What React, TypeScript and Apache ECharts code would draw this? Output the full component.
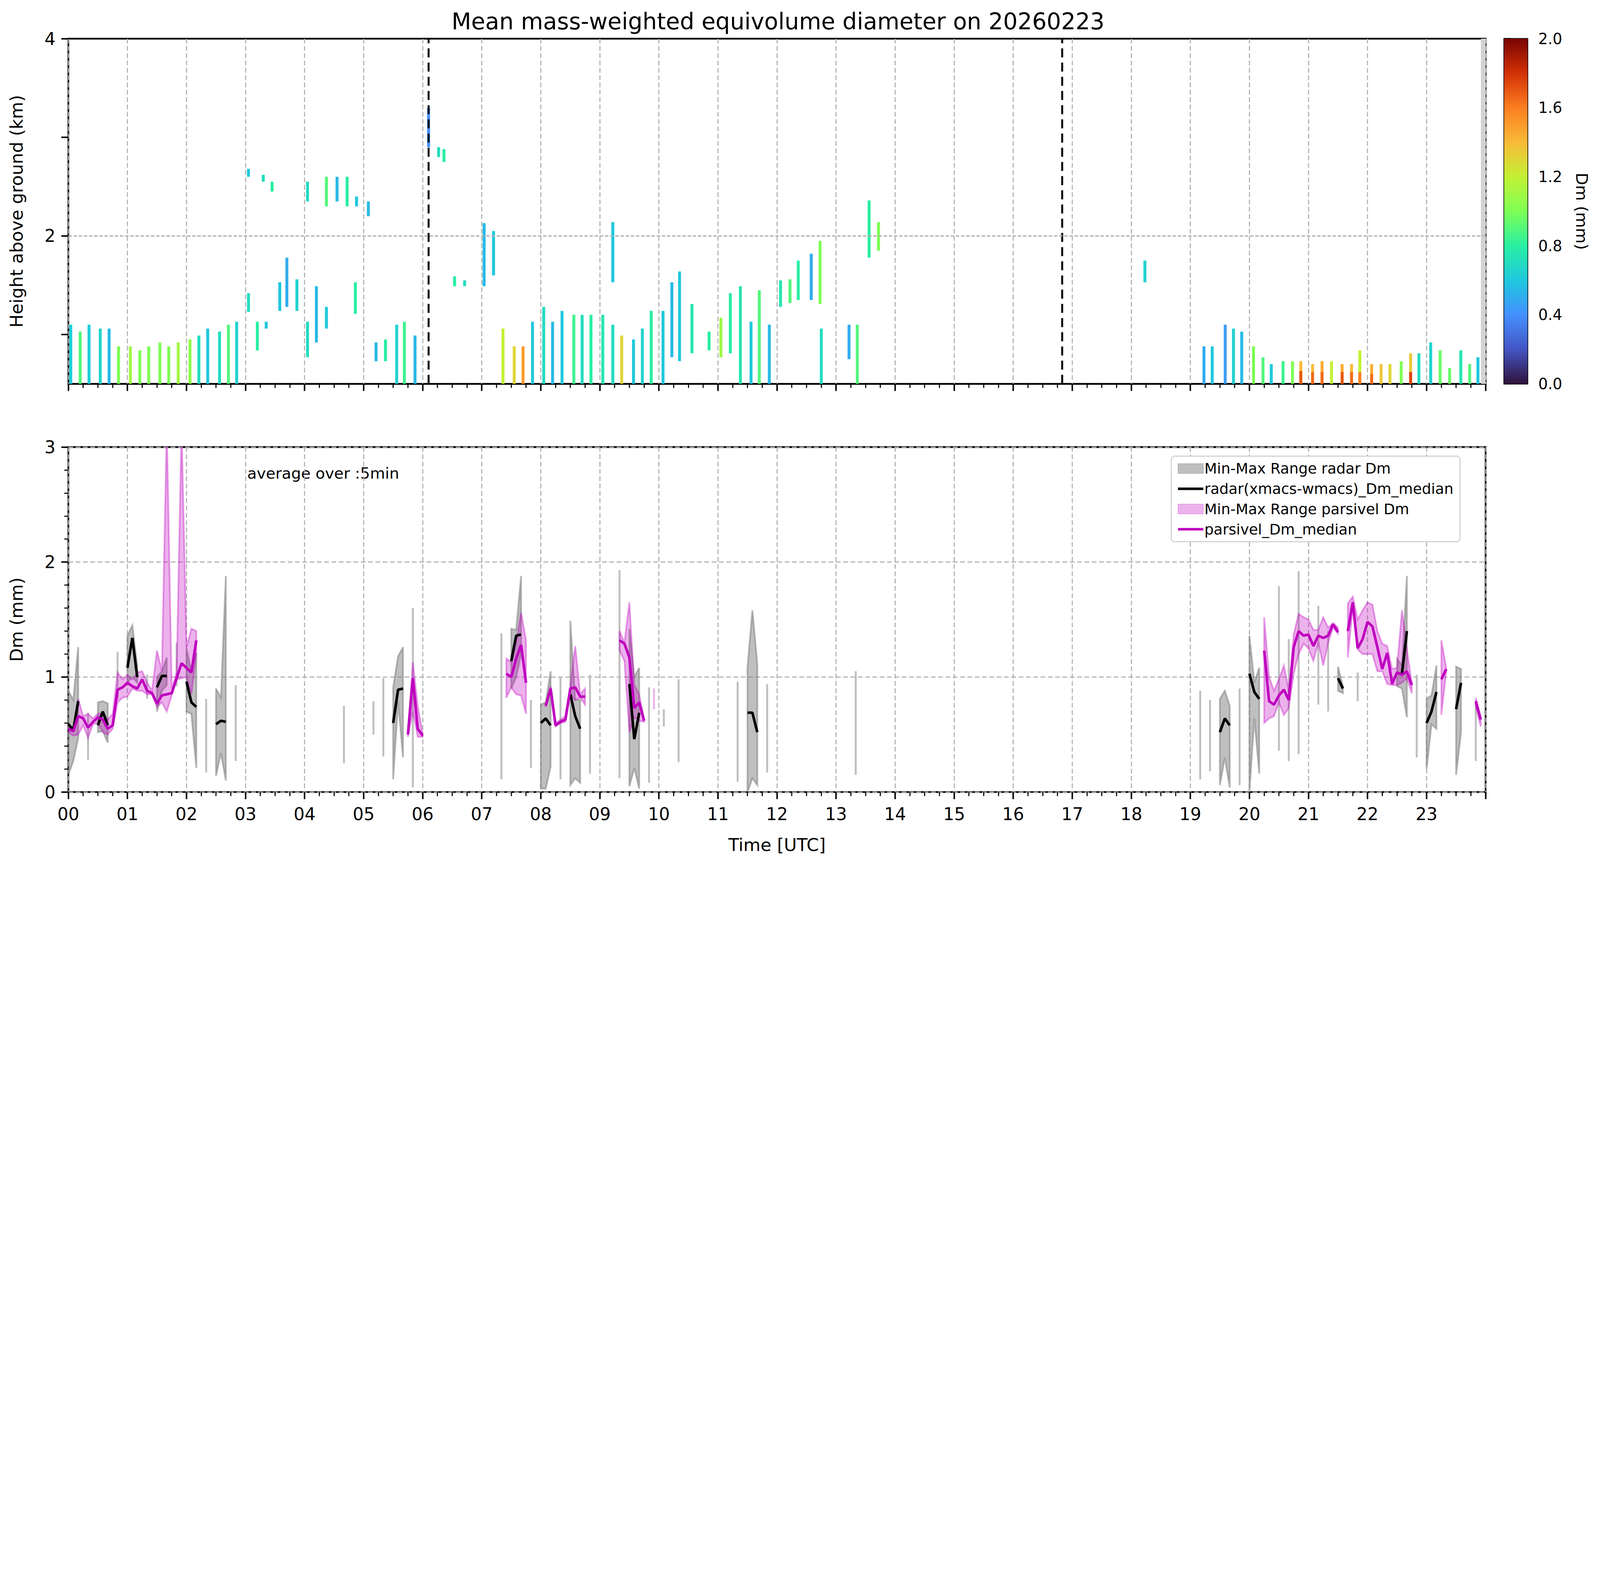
import { useEffect, useRef } from 'react';
import * as echarts from 'echarts';

// turbo colormap samples (0 .. 1)
const turboStops = ['#30123b', '#4454c4', '#4490fe', '#1fc8de', '#29efa2', '#7eff55', '#c3f134', '#f9ba38', '#fb7e21', '#d23105', '#7a0403'];

// top panel: [hour, bottom km, top km, Dm mm]
const profileCols: [number, number, number, number][] = [
  [0.04, 0.5, 1.10, 0.62], [0.20, 0.5, 1.03, 0.9], [0.35, 0.5, 1.10, 0.62], [0.54, 0.5, 1.06, 0.66], [0.69, 0.5, 1.06, 0.55],
  [0.85, 0.5, 0.88, 1.0], [1.05, 0.5, 0.88, 1.1], [1.21, 0.5, 0.84, 1.0], [1.36, 0.5, 0.88, 1.0], [1.55, 0.5, 0.92, 1.0],
  [1.70, 0.5, 0.88, 1.0], [1.86, 0.5, 0.92, 1.1], [2.06, 0.5, 0.95, 1.05], [2.21, 0.5, 0.99, 0.7], [2.36, 0.5, 1.06, 0.6],
  [2.56, 0.5, 1.03, 0.7], [2.71, 0.5, 1.10, 0.9], [2.85, 0.5, 1.13, 0.65],
  [3.05, 1.23, 1.42, 0.7], [3.05, 2.60, 2.68, 0.6], [3.20, 0.84, 1.13, 0.8], [3.35, 1.06, 1.13, 0.6], [3.58, 1.24, 1.53, 0.6],
  [3.70, 1.28, 1.78, 0.5], [3.87, 1.24, 1.56, 0.65], [4.05, 0.77, 1.13, 0.7], [4.20, 0.92, 1.49, 0.55], [4.37, 1.06, 1.28, 0.6],
  [4.86, 1.21, 1.53, 0.8], [4.05, 2.35, 2.55, 0.7], [4.37, 2.30, 2.60, 0.9], [4.55, 2.35, 2.60, 0.55], [4.72, 2.30, 2.60, 0.8],
  [4.88, 2.30, 2.40, 0.6], [5.08, 2.20, 2.35, 0.55], [3.30, 2.55, 2.62, 0.7], [3.45, 2.45, 2.55, 0.8],
  [5.21, 0.73, 0.92, 0.55], [5.37, 0.73, 0.95, 0.8], [5.56, 0.5, 1.10, 0.65], [5.69, 0.5, 1.13, 0.85], [5.87, 0.5, 0.99, 0.55],
  [6.10, 2.90, 3.30, 0.4], [6.27, 2.80, 2.90, 0.7], [6.36, 2.75, 2.88, 0.8], [6.54, 1.49, 1.59, 0.8], [6.71, 1.49, 1.55, 0.7],
  [7.04, 1.49, 2.13, 0.55], [7.20, 1.60, 2.05, 0.6],
  [7.36, 0.5, 1.06, 1.2], [7.55, 0.5, 0.88, 1.3], [7.70, 0.5, 0.88, 1.5], [7.86, 0.5, 1.13, 0.6], [8.05, 0.5, 1.28, 0.7],
  [8.20, 0.5, 1.13, 0.55], [8.36, 0.5, 1.24, 0.6], [8.56, 0.5, 1.20, 0.85], [8.70, 0.5, 1.20, 0.7], [8.85, 0.5, 1.20, 0.8],
  [9.05, 0.5, 1.20, 0.75], [9.22, 0.5, 1.10, 0.7], [9.22, 1.53, 2.14, 0.6], [9.37, 0.5, 0.99, 1.3], [9.57, 0.5, 0.95, 0.6],
  [9.72, 0.5, 1.06, 0.65], [9.87, 0.5, 1.24, 0.8], [10.07, 0.5, 1.24, 0.6], [10.22, 0.77, 1.53, 0.55], [10.35, 0.73, 1.64, 0.6],
  [10.56, 0.81, 1.31, 0.75], [10.85, 0.84, 1.03, 0.8], [11.05, 0.77, 1.17, 1.1], [11.21, 0.81, 1.42, 0.8], [11.38, 0.5, 1.49, 0.75],
  [11.56, 0.5, 1.13, 0.6], [11.70, 0.5, 1.45, 0.9], [11.87, 0.5, 1.10, 0.55],
  [12.06, 1.28, 1.55, 0.75], [12.22, 1.32, 1.56, 0.9], [12.36, 1.35, 1.75, 0.8], [12.58, 1.35, 1.82, 0.5], [12.73, 1.31, 1.95, 1.0],
  [12.75, 0.5, 1.06, 0.7], [13.22, 0.75, 1.10, 0.5], [13.36, 0.5, 1.10, 0.9], [13.56, 1.78, 2.36, 0.8], [13.72, 1.85, 2.14, 1.0],
  [18.23, 1.53, 1.75, 0.65],
  [19.23, 0.5, 0.88, 0.5], [19.37, 0.5, 0.88, 0.6], [19.59, 0.5, 1.10, 0.45], [19.73, 0.5, 1.06, 0.65], [19.87, 0.5, 1.03, 0.55],
  [20.07, 0.5, 0.88, 1.0], [20.23, 0.5, 0.77, 0.9], [20.37, 0.5, 0.70, 0.6], [20.57, 0.5, 0.73, 0.85], [20.73, 0.5, 0.73, 1.0],
  [20.87, 0.5, 0.73, 1.4], [20.87, 0.5, 0.63, 1.7], [21.07, 0.5, 0.70, 1.4], [21.07, 0.5, 0.62, 1.65], [21.23, 0.5, 0.73, 1.45],
  [21.23, 0.5, 0.62, 1.65], [21.39, 0.5, 0.73, 1.2], [21.57, 0.5, 0.70, 1.45], [21.57, 0.5, 0.62, 1.7], [21.73, 0.5, 0.70, 1.4],
  [21.73, 0.5, 0.62, 1.65], [21.87, 0.5, 0.84, 1.2], [21.87, 0.5, 0.62, 1.6], [22.07, 0.5, 0.70, 1.45], [22.07, 0.5, 0.6, 1.65],
  [22.23, 0.5, 0.70, 1.35], [22.38, 0.5, 0.70, 1.3], [22.57, 0.5, 0.73, 1.0], [22.73, 0.5, 0.81, 1.35], [22.73, 0.5, 0.62, 1.75],
  [22.87, 0.5, 0.81, 0.7], [23.07, 0.5, 0.92, 0.65], [23.23, 0.5, 0.84, 0.95], [23.39, 0.5, 0.66, 0.95], [23.58, 0.5, 0.84, 0.75],
  [23.73, 0.5, 0.70, 0.9], [23.87, 0.5, 0.77, 0.6],
];

// bottom panel, 5-min steps: [minute of day, median, min, max] (median null where only the range exists)
const parsivelRows: [number, number | null, number, number][] = [
  [0, 0.55, 0.52, 0.58], [5, 0.53, 0.49, 0.55], [10, 0.66, 0.50, 0.81], [15, 0.64, 0.58, 0.66], [20, 0.56, 0.47, 0.68],
  [25, 0.61, 0.59, 0.64], [30, 0.65, 0.60, 0.68], [35, 0.63, 0.52, 0.69], [40, 0.55, 0.50, 0.63], [45, 0.58, 0.55, 0.68],
  [50, 0.89, 0.78, 1.04], [55, 0.91, 0.82, 0.98], [60, 0.95, 0.83, 1.02], [65, 0.92, 0.90, 0.98], [70, 0.90, 0.88, 1.04],
  [75, 0.98, 0.88, 1.05], [80, 0.88, 0.85, 0.95], [85, 0.86, 0.85, 0.88], [90, 0.77, 0.74, 1.23], [95, 0.84, 0.78, 1.05],
  [100, 0.85, 0.70, 3.2], [105, 0.86, 0.84, 0.90], [110, 0.99, 0.98, 1.04], [115, 1.12, 0.99, 3.2], [120, 1.08, 1.00, 1.26],
  [125, 1.04, 0.85, 1.42], [130, 1.32, 1.20, 1.40],
  [345, 0.50, 0.48, 0.52], [350, 0.99, 0.70, 1.13], [355, 0.55, 0.48, 0.75], [360, 0.49, 0.48, 0.50],
  [445, 1.03, 0.82, 1.16], [450, 1.00, 0.91, 1.13], [455, 1.16, 0.85, 1.30], [460, 1.28, 0.84, 1.56], [465, 0.95, 0.68, 1.32],
  [485, 0.75, 0.74, 0.77], [490, 0.90, 0.88, 0.92], [495, 0.58, 0.57, 0.60], [500, 0.61, 0.60, 0.63], [505, 0.63, 0.61, 0.66],
  [510, 0.90, 0.85, 0.92], [515, 0.91, 0.80, 1.27], [520, 0.83, 0.82, 0.85], [525, 0.83, 0.76, 0.90],
  [560, 1.32, 1.23, 1.40], [565, 1.29, 1.14, 1.30], [570, 1.17, 0.52, 1.65], [575, 0.73, 0.65, 0.93], [580, 0.78, 0.62, 0.85],
  [585, 0.62, 0.61, 0.63], [595, null, 0.72, 0.90],
  [1215, 1.23, 0.60, 1.52], [1220, 0.79, 0.64, 1.00], [1225, 0.76, 0.66, 0.88], [1230, 0.84, 0.78, 0.98], [1235, 0.89, 0.67, 1.10],
  [1240, 0.80, 0.73, 0.88], [1245, 1.26, 1.03, 1.37], [1250, 1.40, 1.20, 1.55], [1255, 1.36, 1.29, 1.52], [1260, 1.37, 1.25, 1.50],
  [1265, 1.27, 1.14, 1.41], [1270, 1.36, 1.30, 1.41], [1275, 1.34, 1.10, 1.52], [1280, 1.36, 1.30, 1.43], [1285, 1.46, 1.43, 1.47],
  [1290, 1.39, 1.38, 1.43],
  [1300, 1.40, 1.17, 1.64], [1305, 1.65, 1.60, 1.70], [1310, 1.25, 1.24, 1.50], [1315, 1.33, 1.20, 1.58], [1320, 1.48, 1.20, 1.65],
  [1325, 1.44, 1.20, 1.63], [1330, 1.26, 1.05, 1.40], [1335, 1.07, 1.05, 1.29], [1340, 1.21, 0.94, 1.27], [1345, 0.94, 0.93, 1.07],
  [1350, 1.04, 0.93, 1.08], [1355, 1.02, 0.95, 1.58], [1360, 1.05, 0.99, 1.24], [1365, 0.93, 0.86, 0.95],
  [1395, 0.98, 0.67, 1.32], [1400, 1.07, 1.05, 1.08],
  [1430, 0.79, 0.74, 0.82], [1435, 0.63, 0.57, 0.65],
];

const radarRows: [number, number | null, number, number][] = [
  [0, 0.59, 0.15, 0.88], [5, 0.54, 0.27, 0.80], [10, 0.79, 0.47, 1.26], [20, null, 0.28, 0.69],
  [30, 0.58, 0.52, 0.78], [35, 0.70, 0.53, 0.79], [40, 0.58, 0.43, 0.77], [50, null, 0.81, 1.22],
  [60, 1.08, 0.95, 1.36], [65, 1.34, 1.00, 1.45], [70, 1.00, 0.95, 1.10], [80, null, 0.81, 1.02],
  [90, 0.91, 0.70, 1.00], [95, 1.01, 0.88, 1.05], [100, 1.01, 0.93, 1.17], [110, null, 0.92, 1.30],
  [120, 0.96, 0.70, 1.25], [125, 0.78, 0.68, 1.05], [130, 0.74, 0.21, 1.21], [140, null, 0.17, 0.81],
  [150, 0.59, 0.14, 0.90], [155, 0.62, 0.34, 0.82], [160, 0.61, 0.10, 1.88], [170, null, 0.27, 0.93],
  [280, null, 0.25, 0.75], [310, null, 0.50, 0.79], [320, null, 0.31, 0.99],
  [330, 0.60, 0.11, 0.91], [335, 0.89, 0.79, 1.18], [340, 0.90, 0.30, 1.26], [350, null, 0.04, 1.60],
  [440, null, 0.11, 1.38], [450, 1.14, 0.90, 1.42], [455, 1.36, 1.00, 1.41], [460, 1.37, 1.20, 1.88], [470, null, 0.21, 0.80],
  [480, 0.60, 0.03, 0.76], [485, 0.64, 0.03, 0.78], [490, 0.58, 0.22, 1.05], [500, null, 0.11, 1.00],
  [510, 0.85, 0.06, 1.49], [515, 0.66, 0.12, 0.80], [520, 0.55, 0.08, 0.80], [530, null, 0.16, 1.02],
  [560, null, 0.12, 1.93], [570, 0.94, 0.05, 1.42], [575, 0.46, 0.21, 1.00], [580, 0.69, 0.03, 1.08], [590, null, 0.08, 0.91],
  [605, null, 0.57, 0.72], [620, null, 0.26, 0.98], [680, null, 0.09, 0.96],
  [690, 0.69, 0.00, 1.08], [695, 0.69, 0.12, 1.58], [700, 0.52, 0.06, 1.11], [710, null, 0.17, 0.94], [800, null, 0.15, 1.05],
  [1150, null, 0.11, 0.88], [1160, null, 0.18, 0.80],
  [1170, 0.52, 0.06, 0.81], [1175, 0.64, 0.30, 0.88], [1180, 0.58, 0.04, 0.75], [1190, null, 0.06, 0.90],
  [1200, 1.03, 0.00, 1.36], [1205, 0.87, 0.64, 0.95], [1210, 0.81, 0.16, 1.08],
  [1230, null, 0.36, 1.79], [1240, null, 0.27, 1.33], [1250, null, 0.33, 1.92], [1270, null, 0.76, 1.62], [1280, null, 0.70, 1.40],
  [1290, 0.99, 0.88, 1.09], [1295, 0.90, 0.86, 0.92], [1310, null, 0.79, 1.04],
  [1350, null, 0.92, 1.16], [1355, 1.03, 0.90, 1.10], [1360, 1.40, 0.65, 1.88], [1370, null, 0.30, 1.02],
  [1380, 0.60, 0.20, 0.81], [1385, 0.70, 0.59, 0.84], [1390, 0.87, 0.55, 1.10],
  [1410, 0.72, 0.15, 1.09], [1415, 0.95, 0.52, 1.07], [1430, null, 0.27, 0.78],
];

const dashedMarks = [6.1, 16.83];
const hourLabels = Array.from({ length: 24 }, (_, h) => String(h).padStart(2, '0'));

const FONT = 'DejaVu Sans';
const W = 7442;
const H = 4031;
// thin horizontal stroke inside a 118x46 box (the tiny end segments fix the box)
const LINE_ICON = 'path://M0,0 L0.01,0 M0,17 L118,17 L118,29 L0,29 Z M118,46 L117.99,46';

function hexToRgb(h: string) {
  return [1, 3, 5].map((i) => parseInt(h.slice(i, i + 2), 16));
}
function turbo(f: number) {
  const x = Math.max(0, Math.min(1, f)) * (turboStops.length - 1);
  const i = Math.min(Math.floor(x), turboStops.length - 2);
  const a = hexToRgb(turboStops[i]);
  const b = hexToRgb(turboStops[i + 1]);
  const k = x - i;
  const c = a.map((v, j) => Math.round(v + (b[j] - v) * k));
  return `rgb(${c[0]},${c[1]},${c[2]})`;
}

type Row = [number, number | null, number, number];
function runsOf(rows: Row[]) {
  const runs: Row[][] = [];
  rows.forEach((r, i) => {
    if (i > 0 && r[0] - rows[i - 1][0] <= 5) runs[runs.length - 1].push(r);
    else runs.push([r]);
  });
  return runs;
}
function medianLine(rows: Row[]) {
  const out: any[] = [];
  rows.forEach((r, i) => {
    if (i > 0 && r[0] - rows[i - 1][0] > 5) out.push([(rows[i - 1][0] + 2.5) / 60, '-']);
    out.push([r[0] / 60, r[1] == null ? '-' : r[1]]);
  });
  return out;
}

function bandSeries(name: string, rows: Row[], fill: string, edge: string, lone: string) {
  const runs = runsOf(rows);
  return {
    name,
    type: 'custom',
    xAxisIndex: 1,
    yAxisIndex: 1,
    clip: true,
    z: 2,
    itemStyle: { color: fill, borderColor: edge, borderWidth: 4 },
    data: runs.map((_, i) => [i]),
    renderItem: (_p: any, api: any) => {
      const run = runs[api.value(0)];
      if (run.length === 1) {
        const [t, , lo, hi] = run[0];
        const a = api.coord([t / 60, lo]);
        const b = api.coord([t / 60, hi]);
        return { type: 'line', shape: { x1: a[0], y1: a[1], x2: b[0], y2: b[1] }, style: { stroke: lone, lineWidth: 9 } };
      }
      const pts = run.map((r) => api.coord([r[0] / 60, r[3]]));
      for (let i = run.length - 1; i >= 0; i--) pts.push(api.coord([run[i][0] / 60, run[i][2]]));
      return { type: 'polygon', shape: { points: pts }, style: { fill, stroke: edge, lineWidth: 8 } };
    },
  };
}

export default function App() {
  const ref = useRef<HTMLDivElement | null>(null);
  // the window may be narrower than the 7442 px design: scale the whole drawing down to fit
  const scale = Math.min(1, window.innerWidth / W);

  useEffect(() => {
    document.body.style.margin = '0';
    if (!ref.current) return;
    const chart = echarts.init(ref.current, undefined, { renderer: 'svg' });

    const xBase = (gridIndex: number, showLabels: boolean) => ({
      type: 'value',
      gridIndex,
      min: 0,
      max: 24,
      interval: 1,
      axisLine: { show: false },
      axisTick: { show: true, length: 33, lineStyle: { color: '#000', width: 7 } },
      minorTick: { show: true, splitNumber: 4, length: 19, lineStyle: { color: '#000', width: 5 } },
      axisLabel: {
        show: showLabels,
        fontSize: 80,
        fontFamily: FONT,
        color: '#000',
        margin: 62,
        formatter: (v: number) => (v < 24 ? hourLabels[v] : ''),
      },
      splitLine: { show: true, lineStyle: { color: '#b0b0b0', type: [22, 12], width: 5 } },
    });

    chart.setOption({
      animation: false,
      backgroundColor: '#fff',
      title: {
        text: 'Mean mass-weighted equivolume diameter on 20260223',
        left: 3614,
        textAlign: 'center',
        top: 42,
        textStyle: { fontSize: 106, fontWeight: 'normal', fontFamily: FONT, color: '#000' },
      },
      legend: {
        orient: 'vertical',
        left: 5448,
        top: 2121,
        itemWidth: 118,
        itemHeight: 46,
        itemGap: 26,
        padding: [24, 30, 24, 30],
        backgroundColor: '#fff',
        borderColor: '#d0d0d0',
        borderWidth: 5,
        borderRadius: 16,
        textStyle: { fontSize: 68, fontFamily: FONT, color: '#000' },
        data: [
          { name: 'Min-Max Range radar Dm', icon: 'rect' },
          { name: 'radar(xmacs-wmacs)_Dm_median', icon: LINE_ICON, itemStyle: { color: '#000' } },
          { name: 'Min-Max Range parsivel Dm', icon: 'rect' },
          { name: 'parsivel_Dm_median', icon: LINE_ICON, itemStyle: { color: '#bf00bf' } },
        ],
      },
      graphic: [
        {
          type: 'text',
          left: 1150,
          top: 2165,
          style: { text: 'average over :5min', fontSize: 72, fontFamily: FONT, fill: '#000' },
        },
      ],
      grid: [
        { left: 318, top: 180, width: 6592, height: 1605, show: true, borderColor: '#000', borderWidth: 8, backgroundColor: 'transparent' },
        { left: 318, top: 2079, width: 6592, height: 1604, show: true, borderColor: '#000', borderWidth: 8, backgroundColor: 'transparent' },
        { left: 6996, top: 180, width: 109, height: 1605, show: true, borderColor: '#000', borderWidth: 6 },
      ],
      xAxis: [
        xBase(0, false),
        {
          ...xBase(1, true),
          name: 'Time [UTC]',
          nameLocation: 'middle',
          nameGap: 205,
          nameTextStyle: { fontSize: 82, fontFamily: FONT, color: '#000' },
        },
        { type: 'value', gridIndex: 2, min: 0, max: 1, show: false },
      ],
      yAxis: [
        {
          type: 'value',
          gridIndex: 0,
          min: 0.5,
          max: 4,
          axisLine: { show: false },
          axisTick: { show: true, length: 33, customValues: [1, 2, 3, 4], lineStyle: { color: '#000', width: 7 } },
          axisLabel: { fontSize: 80, fontFamily: FONT, color: '#000', margin: 60, customValues: [2, 4] },
          splitLine: { show: false },
          name: 'Height above ground (km)',
          nameLocation: 'middle',
          nameGap: 200,
          nameTextStyle: { fontSize: 82, fontFamily: FONT, color: '#000' },
        },
        {
          type: 'value',
          gridIndex: 1,
          min: 0,
          max: 3,
          interval: 1,
          axisLine: { show: false },
          axisTick: { show: true, length: 33, lineStyle: { color: '#000', width: 7 } },
          minorTick: { show: true, splitNumber: 5, length: 19, lineStyle: { color: '#000', width: 5 } },
          axisLabel: { fontSize: 80, fontFamily: FONT, color: '#000', margin: 60 },
          splitLine: { show: true, lineStyle: { color: '#b0b0b0', type: [22, 12], width: 5 } },
          name: 'Dm (mm)',
          nameLocation: 'middle',
          nameGap: 200,
          nameTextStyle: { fontSize: 82, fontFamily: FONT, color: '#000' },
        },
        {
          type: 'value',
          gridIndex: 2,
          position: 'right',
          min: 0,
          max: 2,
          interval: 0.4,
          axisLine: { show: false },
          axisTick: { show: true, length: 30, lineStyle: { color: '#000', width: 6 } },
          axisLabel: { fontSize: 70, fontFamily: FONT, color: '#000', margin: 50, formatter: (v: number) => v.toFixed(1) },
          splitLine: { show: false },
          name: 'Dm (mm)',
          nameLocation: 'middle',
          nameRotate: -90,
          nameGap: 215,
          nameTextStyle: { fontSize: 75, fontFamily: FONT, color: '#000' },
        },
      ],
      series: [
        {
          type: 'custom',
          xAxisIndex: 0,
          yAxisIndex: 0,
          clip: true,
          data: profileCols,
          renderItem: (_p: any, api: any) => {
            const t = api.value(0);
            const a = api.coord([t - 0.025, api.value(2)]);
            const b = api.coord([t + 0.025, api.value(1)]);
            return {
              type: 'rect',
              shape: { x: a[0], y: a[1], width: b[0] - a[0], height: b[1] - a[1] },
              style: { fill: turbo(api.value(3) / 2) },
            };
          },
          markLine: {
            silent: true,
            symbol: 'none',
            label: { show: false },
            data: [
              ...dashedMarks.map((x) => ({ xAxis: x, lineStyle: { color: '#000', type: [42, 24], width: 9 } })),
              { yAxis: 2, lineStyle: { color: '#b0b0b0', type: [16, 8], width: 6 } },
            ],
          },
          markArea: {
            silent: true,
            itemStyle: { color: '#d3d3d3' },
            data: [[{ xAxis: 23.92 }, { xAxis: 24 }]],
          },
        },
        bandSeries('Min-Max Range radar Dm', radarRows, 'rgba(128,128,128,0.5)', 'rgba(128,128,128,0.55)', '#bfbfbf'),
        {
          name: 'radar(xmacs-wmacs)_Dm_median',
          type: 'line',
          xAxisIndex: 1,
          yAxisIndex: 1,
          symbol: 'none',
          z: 4,
          lineStyle: { color: '#000', width: 12 },
          itemStyle: { color: '#000' },
          data: medianLine(radarRows),
        },
        bandSeries('Min-Max Range parsivel Dm', parsivelRows, 'rgba(191,0,191,0.3)', 'rgba(191,0,191,0.35)', 'rgba(191,0,191,0.3)'),
        {
          name: 'parsivel_Dm_median',
          type: 'line',
          xAxisIndex: 1,
          yAxisIndex: 1,
          symbol: 'none',
          z: 5,
          lineStyle: { color: '#bf00bf', width: 12 },
          itemStyle: { color: '#bf00bf' },
          data: medianLine(parsivelRows),
        },
        {
          type: 'custom',
          xAxisIndex: 2,
          yAxisIndex: 2,
          data: [[0]],
          renderItem: (_p: any, api: any) => {
            const a = api.coord([0, 2]);
            const b = api.coord([1, 0]);
            return {
              type: 'rect',
              shape: { x: a[0], y: a[1], width: b[0] - a[0], height: b[1] - a[1] },
              style: {
                fill: new echarts.graphic.LinearGradient(
                  0, 1, 0, 0,
                  turboStops.map((c, i) => ({ offset: i / (turboStops.length - 1), color: c })),
                ),
              },
            };
          },
        },
      ],
    });

    return () => chart.dispose();
  }, []);

  return (
    <div style={{ width: W * scale, height: H * scale, overflow: 'hidden' }}>
      <div ref={ref} style={{ width: W, height: H, transform: `scale(${scale})`, transformOrigin: '0 0' }} />
    </div>
  );
}
